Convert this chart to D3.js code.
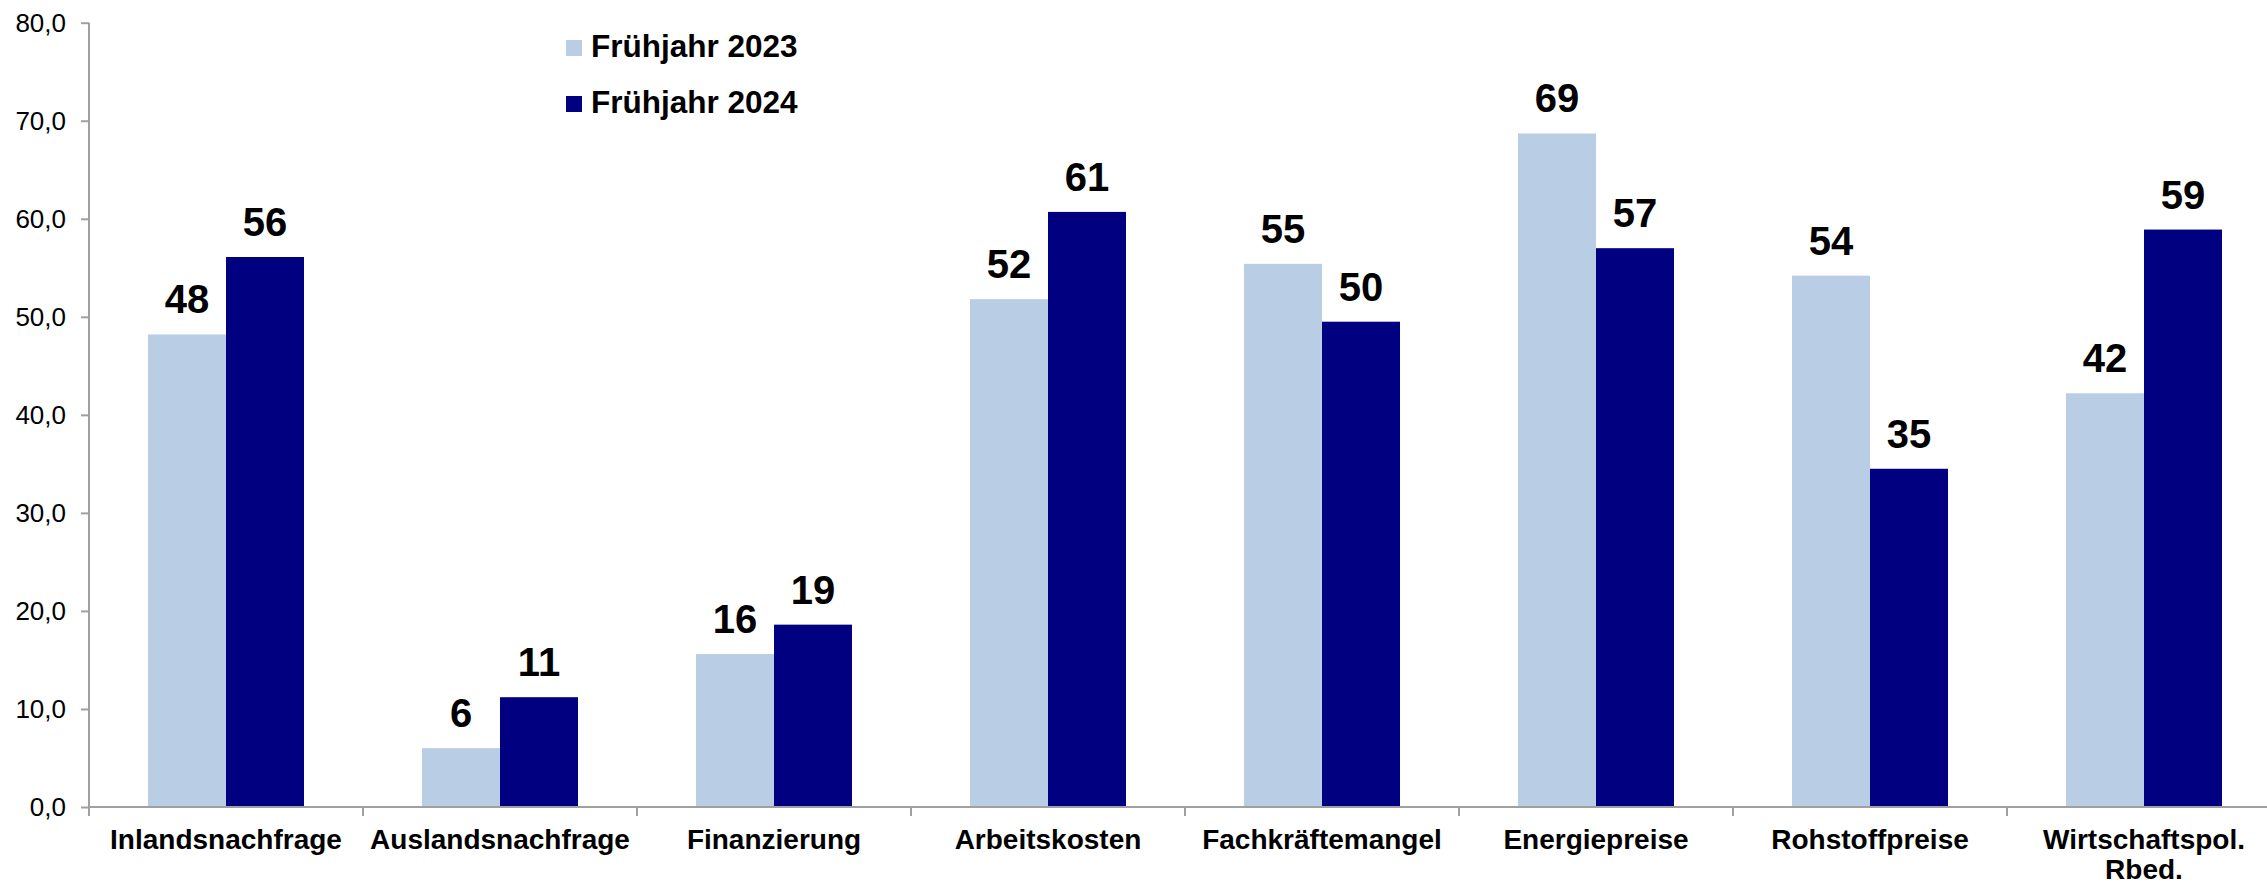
<!DOCTYPE html>
<html><head><meta charset="utf-8">
<script src="https://cdn.jsdelivr.net/npm/d3@7"></script>
<style>html,body{margin:0;padding:0;background:#fff;overflow:hidden}</style>
</head><body>
<svg id="c" width="2267" height="884"></svg>
<script>
const categories = ["Inlandsnachfrage","Auslandsnachfrage","Finanzierung","Arbeitskosten","Fachkräftemangel","Energiepreise","Rohstoffpreise","Wirtschaftspol.\nRbed."];
const series = ["Frühjahr 2023","Frühjahr 2024"];
const values2023 = [48.2, 6.0, 15.6, 51.8, 55.4, 68.7, 54.2, 42.2];
const values2024 = [56.1, 11.2, 18.6, 60.7, 49.5, 57.0, 34.5, 58.9];
const yTicks = [0,10,20,30,40,50,60,70,80];
const colors = ["#b9cde5","#000080"];

const svg = d3.select("#c");
const font = "'Liberation Sans', Arial, sans-serif";
const x0 = 89, x1 = 89 + 8*274, yb = 807, yt = 22.7;
const x = d3.scaleBand().domain(categories).range([x0, x1]).padding(0);
const y = d3.scaleLinear().domain([0,80]).range([yb, yt]);
const barW = 78;
const xs = d3.scaleBand().domain(series).range([-barW, barW]);

// Y axis
const yAxis = svg.append("g").attr("transform",`translate(${x0},0)`)
  .call(d3.axisLeft(y).tickValues(yTicks).tickSize(8).tickPadding(15)
    .tickFormat(d => d3.format(".1f")(d).replace(".", ",")));
yAxis.selectAll("path,line").attr("stroke","#a0a0a0").attr("stroke-width",2);
yAxis.select("path").attr("d",`M0,${yt}V${yb}`);
yAxis.selectAll("text").attr("font-family",font).attr("font-size",26).attr("fill","#000");

// bars
const data = [];
categories.forEach((c,i) => {
  data.push({c, s: series[0], v: values2023[i], col: colors[0]});
  data.push({c, s: series[1], v: values2024[i], col: colors[1]});
});
const g = svg.append("g");
g.selectAll("rect").data(data).enter().append("rect")
  .attr("x", d => x(d.c) + x.bandwidth()/2 + xs(d.s))
  .attr("width", xs.bandwidth())
  .attr("y", d => y(d.v))
  .attr("height", d => yb - y(d.v))
  .attr("fill", d => d.col);

g.selectAll("text.v").data(data).enter().append("text")
  .attr("class","v")
  .attr("x", d => x(d.c) + x.bandwidth()/2 + xs(d.s) + xs.bandwidth()/2)
  .attr("y", d => y(d.v) - 21)
  .attr("text-anchor","middle")
  .attr("font-family",font).attr("font-weight","bold").attr("font-size",40)
  .text(d => Math.round(d.v));

// X axis
const xAxis = svg.append("g").attr("transform",`translate(0,${yb})`)
  .call(d3.axisBottom(x).tickSize(0).tickFormat(""));
xAxis.select("path").attr("d",`M${x0},0H${x1}`).attr("stroke","#a0a0a0").attr("stroke-width",2);
xAxis.selectAll(".tick").remove();
const bounds = [...categories.map(c => x(c)), x1];
xAxis.selectAll("line.b").data(bounds).enter().append("line")
  .attr("x1", d=>d).attr("x2", d=>d).attr("y1",0).attr("y2",9)
  .attr("stroke","#a0a0a0").attr("stroke-width",2);

const lab = svg.append("g");
categories.forEach(c => {
  const t = lab.append("text")
    .attr("x", x(c) + x.bandwidth()/2)
    .attr("y", 849)
    .attr("text-anchor","middle")
    .attr("font-family",font).attr("font-weight","bold").attr("font-size",28);
  c.split("\n").forEach((line,k) => {
    t.append("tspan").attr("x", x(c) + x.bandwidth()/2).attr("dy", k===0?0:30).text(line);
  });
});

// legend
const leg = svg.append("g");
series.forEach((s,i) => {
  leg.append("rect").attr("x",566).attr("y",40 + i*56).attr("width",16).attr("height",16).attr("fill",colors[i]);
  leg.append("text").attr("x",591).attr("y",57 + i*56)
    .attr("font-family",font).attr("font-weight","bold").attr("font-size",31.5).text(s);
});
</script>
</body></html>
